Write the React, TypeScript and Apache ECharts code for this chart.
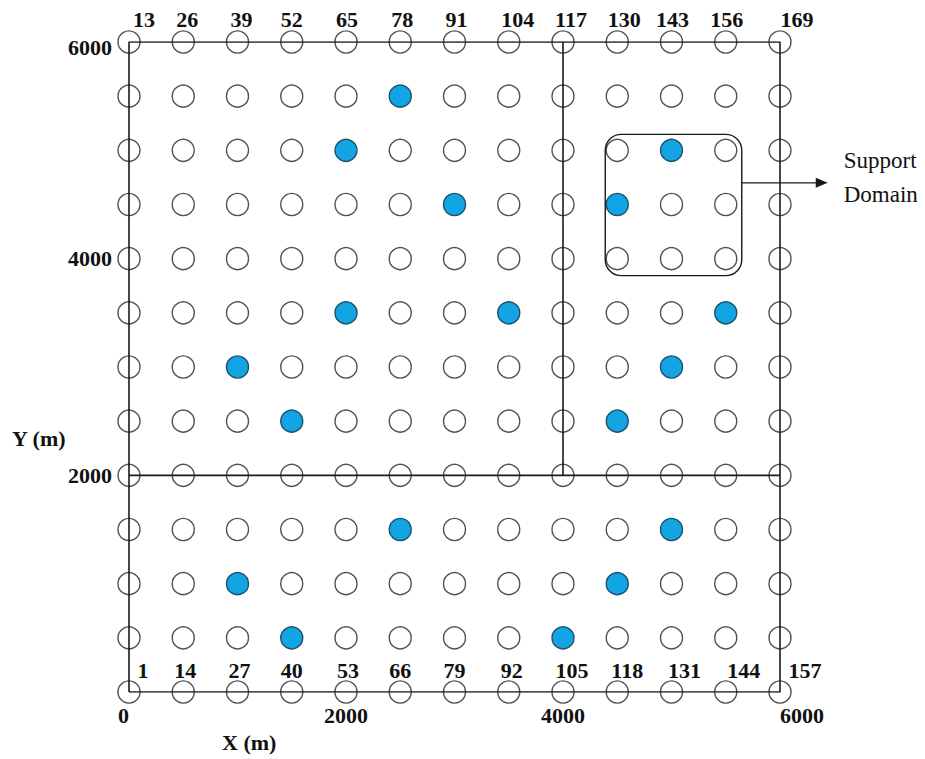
import React, { useEffect, useRef } from "react";
import * as echarts from "echarts";

// grid coordinates of the nodes (m)
const xValues = [0, 500, 1000, 1500, 2000, 2500, 3000, 3500, 4000, 4500, 5000, 5500, 6000];
const yValues = [0, 500, 1000, 1500, 2000, 2500, 3000, 3500, 4000, 4500, 5000, 5500, 6000];

// filled (blue) nodes [x, y]
const blueNodes: number[][] = [
  [2500, 5500],
  [2000, 5000], [5000, 5000],
  [3000, 4500], [4500, 4500],
  [2000, 3500], [3500, 3500], [5500, 3500],
  [1000, 3000], [5000, 3000],
  [1500, 2500], [4500, 2500],
  [2500, 1500], [5000, 1500],
  [1000, 1000], [4500, 1000],
  [1500, 500], [4000, 500],
];

// node numbers shown along the top and bottom rows
const topNumbers = ["13", "26", "39", "52", "65", "78", "91", "104", "117", "130", "143", "156", "169"];
const bottomNumbers = ["1", "14", "27", "40", "53", "66", "79", "92", "105", "118", "131", "144", "157"];

// axis ticks
const tickValues = [0, 2000, 4000, 6000];

// partition lines
const frame = [[0, 0], [6000, 0], [6000, 6000], [0, 6000], [0, 0]];
const hLine = [[0, 2000], [6000, 2000]];
const vLine = [[4000, 2000], [4000, 6000]];

// support domain node range
const supportX = [4500, 5500];
const supportY = [4000, 5000];

// layout tweaks for the number labels (px)
const topLabelDx = [15, 4, 4, 0, 1, 2, 2, 9, 8, 7, 1, 1, 17];
const bottomLabelDx = [14, 2, 2, 0, 2, 0, 0, 3, 9, 10, 13, 18, 25];

const SERIF = "'Liberation Serif', 'Times New Roman', serif";

export default function App() {
  const ref = useRef<HTMLDivElement>(null);

  useEffect(() => {
    if (!ref.current) return;
    const chart = echarts.init(ref.current, null, { renderer: "svg" });

    const isBlue = (x: number, y: number) => blueNodes.some((p) => p[0] === x && p[1] === y);
    const openNodes: number[][] = [];
    xValues.forEach((x) => yValues.forEach((y) => { if (!isBlue(x, y)) openNodes.push([x, y]); }));

    const numLabel = { fontFamily: SERIF, fontWeight: "bold" as const, fontSize: 22, color: "#111" };

    const topData = topNumbers.map((t, i) => [xValues[i], yValues[yValues.length - 1], topLabelDx[i], -23, t]);
    const bottomData = bottomNumbers.map((t, i) => [xValues[i], yValues[0], bottomLabelDx[i], -22, t]);
    const labelData = [...topData, ...bottomData];

    const lineStyle = { color: "#1a1a1a", width: 1.6 };

    const option: any = {
      animation: false,
      backgroundColor: "#ffffff",
      grid: { left: 129, right: 145, top: 42, bottom: 67 },
      xAxis: {
        type: "value", min: 0, max: 6000, interval: 2000,
        axisLine: { show: false }, axisTick: { show: false }, splitLine: { show: false },
        axisLabel: {
          ...numLabel, margin: 12, alignMinLabel: "right", alignMaxLabel: "left",
          formatter: (v: number) => (tickValues.includes(v) ? String(v) : ""),
        },
      },
      yAxis: {
        type: "value", min: 0, max: 6000, interval: 2000,
        axisLine: { show: false }, axisTick: { show: false }, splitLine: { show: false },
        axisLabel: {
          ...numLabel, margin: 17, showMinLabel: false,
          formatter: (v: number) => (v === 6000 ? "{low|" + v + "}" : String(v)),
          rich: { low: { ...numLabel, padding: [10, 0, 0, 0] } },
        },
      },
      graphic: [
        { type: "text", left: 12, top: 427, style: { text: "Y (m)", font: `bold 22px ${SERIF}`, fill: "#111" } },
        { type: "text", left: 222, top: 731, style: { text: "X (m)", font: `bold 22px ${SERIF}`, fill: "#111" } },
      ],
      series: [
        {
          type: "scatter", data: openNodes, symbol: "circle", symbolSize: 22, z: 2,
          itemStyle: { color: "rgba(255,255,255,0)", borderColor: "#262626", borderWidth: 1.4 },
        },
        {
          type: "scatter", data: blueNodes, symbol: "circle", symbolSize: 22, z: 2,
          itemStyle: { color: "#12a4e3", borderColor: "#1d4f6b", borderWidth: 1.4, opacity: 1 },
        },
        { type: "line", data: frame, symbol: "none", lineStyle, z: 3 },
        { type: "line", data: hLine, symbol: "none", lineStyle, z: 3 },
        { type: "line", data: vLine, symbol: "none", lineStyle, z: 3 },
        {
          type: "custom", clip: false, z: 4,
          data: labelData,
          renderItem: (params: any, api: any) => {
            const p = api.coord([api.value(0), api.value(1)]);
            return {
              type: "text",
              style: {
                text: String(labelData[params.dataIndex][4]),
                x: p[0] + api.value(2), y: p[1] + api.value(3),
                font: `bold 22px ${SERIF}`, fill: "#111",
                align: "center", verticalAlign: "middle",
              },
            };
          },
        },
        {
          type: "custom", clip: false, z: 5,
          data: [[supportX[0], supportY[1], supportX[1], supportY[0]]],
          renderItem: (params: any, api: any) => {
            const p0 = api.coord([api.value(0), api.value(1)]);
            const p1 = api.coord([api.value(2), api.value(3)]);
            const x0 = p0[0] - 12, y0 = p0[1] - 16;
            const x1 = p1[0] + 16, y1 = p1[1] + 17;
            const ay = p0[1] + (p1[1] - p0[1]) * 0.3;
            const tip = x1 + 86;
            return {
              type: "group",
              children: [
                {
                  type: "rect",
                  shape: { x: x0, y: y0, width: x1 - x0, height: y1 - y0, r: 16 },
                  style: { fill: "none", stroke: "#1a1a1a", lineWidth: 1.4 },
                },
                {
                  type: "line",
                  shape: { x1: x1, y1: ay, x2: tip - 10, y2: ay },
                  style: { stroke: "#1a1a1a", lineWidth: 1.4 },
                },
                {
                  type: "polygon",
                  shape: { points: [[tip, ay], [tip - 12, ay - 5], [tip - 12, ay + 5]] },
                  style: { fill: "#1a1a1a" },
                },
                {
                  type: "text",
                  style: {
                    text: "Support\nDomain", x: tip + 16, y: ay - 5,
                    font: `23px ${SERIF}`, fill: "#111", lineHeight: 34,
                    verticalAlign: "middle", align: "left",
                  },
                },
              ],
            };
          },
        },
      ],
    };

    chart.setOption(option);
    return () => chart.dispose();
  }, []);

  return <div ref={ref} style={{ position: "absolute", left: 0, top: 0, width: 925, height: 759 }} />;
}
